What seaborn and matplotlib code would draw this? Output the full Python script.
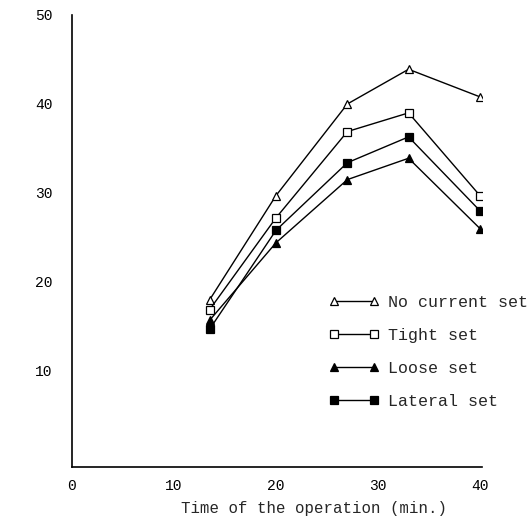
import matplotlib
matplotlib.use("Agg")
import matplotlib.pyplot as plt
import seaborn as sns
import pandas as pd

times = [13.5, 20, 27, 33, 40]
no_current = [18.0, 29.7, 40.0, 43.9, 40.8]
tight = [16.9, 27.2, 36.9, 39.0, 29.7]
loose = [15.7, 24.4, 31.5, 33.9, 26.0]
lateral = [14.7, 25.8, 33.4, 36.3, 28.0]
series_names = ["No current set", "Tight set", "Loose set", "Lateral set"]
x_ticks = [0, 10, 20, 30, 40]
y_ticks = [10, 20, 30, 40, 50]

sns.set_style("white")
plt.rcParams["font.family"] = ["Liberation Mono", "DejaVu Sans"]

rows = []
for name, vals in zip(series_names, [no_current, tight, loose, lateral]):
    for t, v in zip(times, vals):
        rows.append({"time": t, "value": v, "series": name})
df = pd.DataFrame(rows)

fig = plt.figure(figsize=(5.27, 5.25), dpi=100)
ax = fig.add_axes([72 / 527, 1 - 467 / 525, 410 / 527, 452 / 525])

styles = {
    "No current set": dict(marker="^", mfc="white"),
    "Tight set": dict(marker="s", mfc="white"),
    "Loose set": dict(marker="^", mfc="black"),
    "Lateral set": dict(marker="s", mfc="black"),
}
handles = []
for name in series_names:
    sub = df[df["series"] == name]
    st = styles[name]
    sns.lineplot(data=sub, x="time", y="value", ax=ax, color="black",
                 linewidth=1.0, marker=st["marker"], markersize=6,
                 markerfacecolor=st["mfc"], markeredgecolor="black",
                 markeredgewidth=0.9, label=name, legend=False)
    handles.append(ax.lines[-1])

ax.set_xlim(0, 40.2)
ax.set_ylim(-0.8, 50)
ax.set_xticks(x_ticks)
ax.set_yticks(y_ticks)
ax.tick_params(direction="in", length=4, width=1, labelsize=10.5, colors="black")
ax.tick_params(axis="x", pad=9)
ax.tick_params(axis="y", pad=14)
for s in ["top", "right"]:
    ax.spines[s].set_visible(False)
for s in ["left", "bottom"]:
    ax.spines[s].set_color("black")
    ax.spines[s].set_linewidth(1.2)
ax.set_xlabel("Time of the operation (min.)", fontsize=11.3)
ax.xaxis.set_label_coords((314 - 72) / 410, -0.075)
ax.set_ylabel("")

leg = fig.legend(handles=handles, labels=series_names, loc="upper left",
                 bbox_to_anchor=(322 / 527, 1 - 288 / 525), frameon=False,
                 numpoints=2, handlelength=3.0, labelspacing=1.08,
                 handletextpad=0.55, fontsize=12, borderaxespad=0)

fig.savefig("out.png", dpi=100, facecolor="white")
